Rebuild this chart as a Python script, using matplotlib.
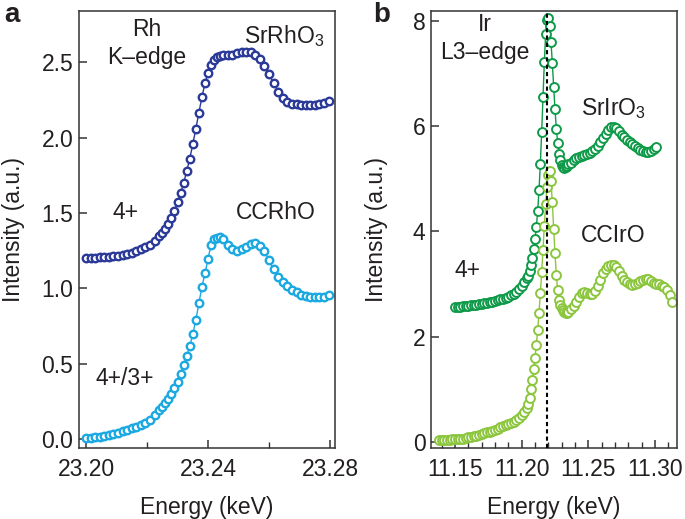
import matplotlib
matplotlib.use("Agg")
import matplotlib.pyplot as plt
from matplotlib.ticker import MultipleLocator, FormatStrFormatter

plt.rcParams['font.family'] = ['Liberation Sans', 'DejaVu Sans']
plt.rcParams['mathtext.fontset'] = 'custom'
plt.rcParams['mathtext.rm'] = 'Liberation Sans'

# ---- panel a : Rh K-edge ----
energy_rh = [23.2000, 23.2015, 23.2030, 23.2045, 23.2060, 23.2075, 23.2090, 23.2105,
             23.2120, 23.2135, 23.2150, 23.2165, 23.2180, 23.2195, 23.2210, 23.2225,
             23.2240, 23.2250, 23.2260, 23.2270, 23.2280, 23.2290, 23.2300, 23.2310,
             23.2320, 23.2330, 23.2340, 23.2350, 23.2360, 23.2370, 23.2380, 23.2390,
             23.2400, 23.2410, 23.2420, 23.2430, 23.2440, 23.2450, 23.2465, 23.2480,
             23.2495, 23.2510, 23.2525, 23.2540, 23.2555, 23.2570, 23.2585, 23.2600,
             23.2615, 23.2630, 23.2645, 23.2660, 23.2675, 23.2690, 23.2705, 23.2720,
             23.2735, 23.2750, 23.2765, 23.2780, 23.2795]
srrho3 = [1.200, 1.201, 1.203, 1.205, 1.207, 1.210, 1.213, 1.217,
          1.222, 1.228, 1.236, 1.246, 1.258, 1.272, 1.290, 1.315,
          1.345, 1.368, 1.395, 1.427, 1.465, 1.515, 1.570, 1.630,
          1.700, 1.775, 1.860, 1.955, 2.060, 2.165, 2.270, 2.360,
          2.430, 2.480, 2.515, 2.535, 2.543, 2.545, 2.546, 2.550,
          2.558, 2.565, 2.568, 2.565, 2.550, 2.520, 2.475, 2.420,
          2.360, 2.305, 2.262, 2.236, 2.224, 2.220, 2.218, 2.217,
          2.217, 2.218, 2.222, 2.232, 2.240]
ccrho = [0.005, 0.008, 0.012, 0.016, 0.020, 0.025, 0.032, 0.040,
         0.050, 0.060, 0.070, 0.080, 0.092, 0.108, 0.128, 0.160,
         0.195, 0.215, 0.240, 0.265, 0.298, 0.335, 0.378, 0.430,
         0.490, 0.550, 0.615, 0.695, 0.790, 0.900, 1.010, 1.100,
         1.195, 1.290, 1.330, 1.335, 1.340, 1.330, 1.290, 1.258,
         1.250, 1.258, 1.272, 1.292, 1.300, 1.282, 1.245, 1.185,
         1.125, 1.075, 1.040, 1.012, 0.990, 0.972, 0.958, 0.948,
         0.942, 0.940, 0.940, 0.945, 0.955]

# ---- panel b : Ir L3-edge ----
energy_srir = [11.150, 11.152, 11.154, 11.156, 11.158, 11.160, 11.162, 11.164,
               11.166, 11.168, 11.170, 11.172, 11.174, 11.176, 11.178, 11.180,
               11.182, 11.184, 11.186, 11.188, 11.190, 11.192, 11.194, 11.196,
               11.198, 11.200, 11.202, 11.204,
               11.205, 11.206, 11.207, 11.208, 11.209, 11.210, 11.211, 11.212,
               11.213, 11.214, 11.215, 11.216, 11.217, 11.218, 11.219, 11.220,
               11.221, 11.222, 11.223, 11.224, 11.225, 11.226, 11.227, 11.228,
               11.229, 11.230, 11.231, 11.232, 11.233, 11.234, 11.235,
               11.237, 11.239, 11.241, 11.243, 11.245, 11.247, 11.249, 11.251,
               11.253, 11.255, 11.257, 11.259, 11.261, 11.263, 11.265, 11.267,
               11.269, 11.271, 11.273, 11.275, 11.277, 11.279, 11.281, 11.283,
               11.285, 11.287, 11.289, 11.291, 11.293, 11.295, 11.297, 11.299,
               11.301]
sriro3 = [2.56, 2.565, 2.57, 2.575, 2.58, 2.585, 2.59, 2.595,
          2.60, 2.61, 2.62, 2.63, 2.64, 2.65, 2.66, 2.675,
          2.69, 2.705, 2.72, 2.74, 2.76, 2.785, 2.815, 2.85,
          2.90, 2.96, 3.03, 3.11,
          3.16, 3.25, 3.36, 3.50, 3.66, 3.85, 4.08, 4.38,
          4.78, 5.28, 5.88, 6.55, 7.22, 7.75, 8.02, 8.05,
          7.90, 7.60, 7.20, 6.75, 6.32, 5.95, 5.68, 5.48,
          5.35, 5.27, 5.23, 5.21, 5.22, 5.25, 5.28,
          5.30, 5.35, 5.39, 5.42, 5.44, 5.46, 5.47, 5.49,
          5.52, 5.57, 5.63, 5.70, 5.78, 5.86, 5.93, 5.98,
          5.99, 5.96, 5.90, 5.84, 5.79, 5.74, 5.70, 5.67,
          5.63, 5.59, 5.55, 5.52, 5.50, 5.50, 5.52, 5.56,
          5.60]

energy_ccir = [11.138, 11.140, 11.142, 11.144, 11.146, 11.148, 11.150, 11.152,
               11.154, 11.156, 11.158, 11.160, 11.162, 11.164, 11.166, 11.168,
               11.170, 11.172, 11.174, 11.176, 11.178, 11.180, 11.182, 11.184,
               11.186, 11.188, 11.190, 11.192, 11.194, 11.196, 11.198, 11.200,
               11.202, 11.204,
               11.205, 11.206, 11.207, 11.208, 11.209, 11.210, 11.211, 11.212,
               11.213, 11.214, 11.215, 11.216, 11.217, 11.218, 11.219, 11.220,
               11.221, 11.222, 11.223, 11.224, 11.225, 11.226, 11.227, 11.228,
               11.229, 11.230, 11.231, 11.232, 11.233, 11.234, 11.235,
               11.237, 11.239, 11.241, 11.243, 11.245, 11.247, 11.249, 11.251,
               11.253, 11.255, 11.257, 11.259, 11.261, 11.263, 11.265, 11.267,
               11.269, 11.271, 11.273, 11.275, 11.277, 11.279, 11.281, 11.283,
               11.285, 11.287, 11.289, 11.291, 11.293, 11.295, 11.297, 11.299,
               11.301, 11.303, 11.305, 11.307, 11.309, 11.311, 11.313]
cciro = [0.03, 0.03, 0.035, 0.04, 0.04, 0.045, 0.05, 0.05,
         0.055, 0.06, 0.07, 0.08, 0.09, 0.10, 0.115, 0.13,
         0.145, 0.16, 0.175, 0.19, 0.21, 0.23, 0.25, 0.27,
         0.29, 0.31, 0.33, 0.35, 0.38, 0.41, 0.45, 0.50,
         0.56, 0.64,
         0.72, 0.84, 1.00, 1.18, 1.38, 1.60, 1.84, 2.12,
         2.45, 2.82, 3.22, 3.65, 4.10, 4.52, 4.85, 5.08,
         5.15, 4.95, 4.55, 4.05, 3.58, 3.17, 2.88, 2.70,
         2.60, 2.54, 2.50, 2.47, 2.45, 2.45, 2.47,
         2.52, 2.58, 2.66, 2.75, 2.82, 2.84, 2.82, 2.80,
         2.81, 2.86, 2.96, 3.08, 3.20, 3.29, 3.34, 3.36,
         3.36, 3.32, 3.24, 3.16, 3.08, 3.03, 2.99, 2.98,
         2.99, 3.02, 3.05, 3.08, 3.10, 3.09, 3.05, 3.02,
         3.00, 2.99, 2.97, 2.94, 2.88, 2.78, 2.66]

ir_edge = 11.2187

c_srrh = '#2B3A98'
c_ccrh = '#1CA9E1'
c_srir = '#0E9A48'
c_ccir = '#8CC63F'
txt = '#231F20'

fig = plt.figure(figsize=(6.85, 5.19), dpi=100)
ax1 = fig.add_axes([0.1153, 0.1368, 0.3737, 0.842])
ax2 = fig.add_axes([0.6292, 0.1368, 0.3591, 0.842])

ax1.plot(energy_rh, srrho3, '-o', color=c_srrh, lw=1, ms=5.4, mew=1.7, mfc='white')
ax1.plot(energy_rh, ccrho, '-o', color=c_ccrh, lw=1, ms=5.4, mew=1.7, mfc='white')

ax2.axvline(ir_edge, color='black', ls=(0, (2, 1.5)), lw=1.5, zorder=3)
ax2.plot(energy_srir, sriro3, '-o', color=c_srir, lw=1, ms=6.4, mew=1.4, mfc='white')
ax2.plot(energy_ccir, cciro, '-o', color=c_ccir, lw=1, ms=6.4, mew=1.4, mfc='white')

ax1.set_xlim(23.1977, 23.2816)
ax1.set_ylim(-0.06, 2.84)
ax1.xaxis.set_major_locator(MultipleLocator(0.04))
ax1.xaxis.set_minor_locator(MultipleLocator(0.02))
ax1.yaxis.set_major_locator(MultipleLocator(0.5))
ax1.xaxis.set_major_formatter(FormatStrFormatter('%.2f'))
ax1.yaxis.set_major_formatter(FormatStrFormatter('%.1f'))

ax2.set_xlim(11.132, 11.3165)
ax2.set_ylim(-0.12, 8.19)
ax2.xaxis.set_major_locator(MultipleLocator(0.05))
ax2.xaxis.set_minor_locator(MultipleLocator(0.01))
ax2.yaxis.set_major_locator(MultipleLocator(2))
ax2.xaxis.set_major_formatter(FormatStrFormatter('%.2f'))

fs = 16.5
for ax in (ax1, ax2):
    for s in ax.spines.values():
        s.set_linewidth(1.1)
        s.set_color('#333333')
    ax.tick_params(which='both', direction='in', top=False, right=False,
                   colors='#333333', labelcolor=txt, labelsize=fs)
    ax.tick_params(which='major', length=6, width=1.1)
    ax.tick_params(which='minor', length=4, width=1.0)
    ax.tick_params(axis='x', pad=7)
    ax.tick_params(axis='y', pad=4)
    ax.set_xlabel('Energy (keV)', fontsize=fs, color=txt, labelpad=11)
    ax.set_ylabel('Intensity (a.u.)', fontsize=fs, color=txt)

ax1.yaxis.set_label_coords(-0.21, 0.5)
ax2.yaxis.set_label_coords(-0.175, 0.5)

def note(ax, x, y, s):
    ax.text(x, y, s, transform=ax.transAxes, ha='center', va='center', fontsize=fs, color=txt)

note(ax1, 0.265, 0.958, 'Rh')
note(ax1, 0.265, 0.893, 'K\u2013edge')
note(ax1, 0.80, 0.943, 'SrRhO$_3$')
note(ax1, 0.18, 0.538, '4+')
note(ax1, 0.77, 0.54, 'CCRhO')
note(ax1, 0.18, 0.16, '4+/3+')

note(ax2, 0.22, 0.968, 'Ir')
note(ax2, 0.22, 0.904, 'L3\u2013edge')
note(ax2, 0.74, 0.777, 'SrIrO$_3$')
note(ax2, 0.74, 0.487, 'CCIrO')
note(ax2, 0.15, 0.407, '4+')

fig.text(0.018, 0.972, 'a', fontsize=20, fontweight='bold', color=txt, ha='center', va='center')
fig.text(0.557, 0.972, 'b', fontsize=20, fontweight='bold', color=txt, ha='center', va='center')

fig.savefig('out.png', dpi=100)
